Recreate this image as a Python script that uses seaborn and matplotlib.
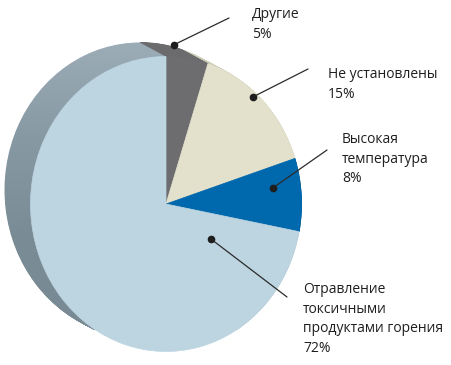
import numpy as np
import matplotlib
matplotlib.use("Agg")
import matplotlib.pyplot as plt
from matplotlib.colors import LinearSegmentedColormap
import seaborn as sns

# данные
categories = ["Другие", "Не установлены", "Высокая температура",
              "Отравление токсичными продуктами горения"]
shares = [5, 15, 8, 72]
labels = ["Другие\n5%", "Не установлены\n15%", "Высокая\nтемпература\n8%",
          "Отравление\nтоксичными\nпродуктами горения\n72%"]
face_colors = ["#6d6d70", "#e3e1cb", "#0068ad", "#bdd5e1"]
side_colors = ["#6b6b6e", "#cfcdb8", "#005a95", "#8899a4"]

sns.set_theme(style="white")
plt.rcParams['font.family'] = ['Open Sans', 'DejaVu Sans']

W, H = 451, 365
fig = plt.figure(figsize=(W / 100, H / 100), dpi=100)
ax = fig.add_axes([0, 0, 1, 1])

rx, ry = 135.5, 147.5   # полуоси лицевой стороны (px)
sx = rx / ry
front = np.array([166.0, 204.0])
back = np.array([140.0, 190.0])


def to_data(px, py):
    return px / sx, H - py


side_cmap = LinearSegmentedColormap.from_list("side", ["#9cadb8", "#8799a3", "#7a8c95", "#788a93"])
grad = np.linspace(0, 1, 256).reshape(-1, 1)

# боковая грань: стопка копий от задней к передней
for i, t in enumerate(np.linspace(0, 1, 40)):
    c = back + (front - back) * t
    z = 1 + i * 0.01
    wedges, _ = ax.pie(shares, colors=side_colors, startangle=90, counterclock=False,
                       radius=ry, center=to_data(*c))
    for w in wedges:
        w.set_edgecolor(w.get_facecolor())
        w.set_linewidth(0.6)
        w.set_zorder(z)
    # голубой сектор - с вертикальным градиентом
    wedges[3].set_visible(False)
    img = ax.imshow(grad, cmap=side_cmap, aspect="auto", origin="upper",
                    extent=(0, W / sx, H - 330, H - 40), zorder=z)
    img.set_clip_path(wedges[3])

wedges, _ = ax.pie(shares, colors=face_colors, startangle=90, counterclock=False,
                   radius=ry, center=to_data(*front))
for w in wedges:
    w.set_edgecolor(w.get_facecolor())
    w.set_linewidth(0.5)
    w.set_zorder(2)

ax.set_aspect('auto')
ax.set_xlim(0, W / sx)
ax.set_ylim(0, H)
ax.axis('off')

# выноски: угол и радиус точки, конец линии, положение текста (px)
dot_angle = [87, 48.5, 8, -35.6]
dot_r = [1.08, 0.97, 0.8, 0.41]
line_end = [(229, 18), (308, 69), (327, 150), (287, 297)]
text_pos = [(252, 7), (328, 67), (342, 132), (303, 282)]

for lab, a, r, le, tp in zip(labels, dot_angle, dot_r, line_end, text_pos):
    px = front[0] + r * rx * np.cos(np.radians(a))
    py = front[1] - r * ry * np.sin(np.radians(a))
    x0, y0 = to_data(px, py)
    x1, y1 = to_data(*le)
    ax.plot([x0, x1], [y0, y1], color="#2b2b2b", lw=0.9, zorder=3)
    ax.plot([x0], [y0], "o", color="#1e1e1e", ms=4.5, zorder=3)
    ax.text(*to_data(*tp), lab, ha="left", va="top", fontsize=10,
            color="#1f1f1f", linespacing=1.42, zorder=3)

fig.savefig("out.png", dpi=100)
